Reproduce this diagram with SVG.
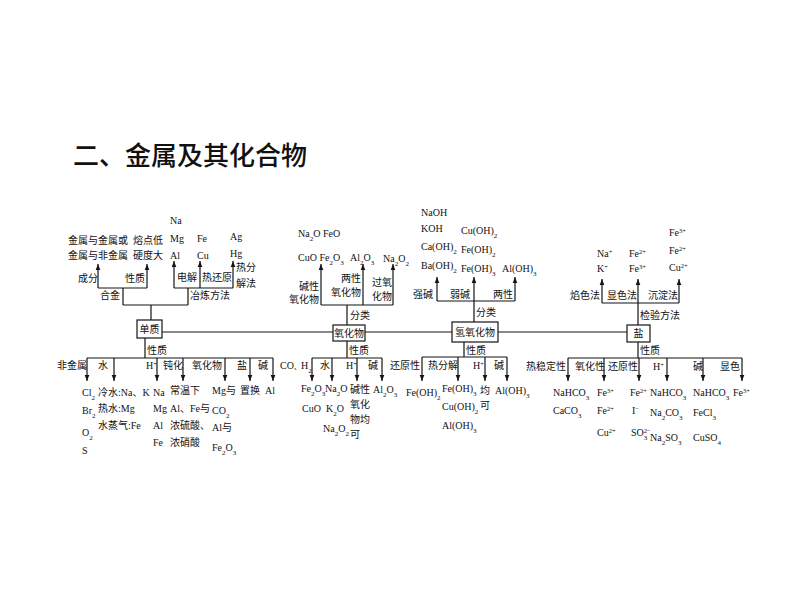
<svg xmlns="http://www.w3.org/2000/svg" width="794" height="596" viewBox="0 0 794 596">
<style>
text{font-family:"Liberation Serif","Noto Sans CJK SC",serif;font-size:10px;fill:#111}
.title{font-family:"Noto Sans CJK SC",sans-serif;font-size:26px;font-weight:500}
.b{font-size:7px;baseline-shift:sub}
.p{font-size:6.5px;baseline-shift:super}
.m{text-anchor:middle}
.e{text-anchor:end}
.ln{fill:none;stroke:#151515;stroke-width:1.2}
.ar{fill:none;stroke:#151515;stroke-width:1.2;marker-end:url(#ah)}
.box{fill:#fff;stroke:#151515;stroke-width:1.2}
</style>
<defs>
<marker id="ah" viewBox="0 0 6 6" refX="6" refY="3" markerWidth="6" markerHeight="6" markerUnits="userSpaceOnUse" orient="auto"><path d="M0,0.7 L6,3 L0,5.3 z" fill="#151515"/></marker>
</defs>
<rect width="794" height="596" fill="#fff"/>
<text class="title" x="73" y="165">二、金属及其化合物</text>

<g id="connectors">
<path class="ln" d="M162,332 H627"/>
<path class="ln" d="M98,288 H147 M174,288 H233 M123,288 V305 M188,288 V305 M123,305 H188 M151,305 V320"/>
<path class="ar" d="M98,288 V264"/><path class="ar" d="M147,288 V264"/>
<path class="ar" d="M174,288 V261"/><path class="ar" d="M200,288 V261"/><path class="ar" d="M233,288 V261"/>
<path class="ln" d="M145,338 V358 M87,358 H273"/>
<path class="ar" d="M87,358 V381"/><path class="ar" d="M114,358 V381"/><path class="ar" d="M157,358 V381"/><path class="ar" d="M183,358 V381"/><path class="ar" d="M225,358 V381"/><path class="ar" d="M250,358 V381"/><path class="ar" d="M273,358 V381"/>
<path class="ln" d="M321,305 H393 M347,305 V325"/>
<path class="ar" d="M321,305 V264"/><path class="ar" d="M363,305 V264"/><path class="ar" d="M393,305 V264"/>
<path class="ln" d="M347,341 V358 M312,358 H382"/>
<path class="ar" d="M312,358 V381"/><path class="ar" d="M332,358 V381"/><path class="ar" d="M357,358 V381"/><path class="ar" d="M382,358 V381"/>
<path class="ln" d="M437,301 H515 M474,301 V322"/>
<path class="ar" d="M437,301 V277"/><path class="ar" d="M474,301 V277"/><path class="ar" d="M515,301 V277"/>
<path class="ln" d="M464,342 V357 M422,357 H507"/>
<path class="ar" d="M422,357 V381"/><path class="ar" d="M458,357 V381"/><path class="ar" d="M485,357 V381"/><path class="ar" d="M507,357 V381"/>
<path class="ln" d="M602,303 H679 M638,303 V325"/>
<path class="ar" d="M602,303 V279"/><path class="ar" d="M638,303 V279"/><path class="ar" d="M679,303 V279"/>
<path class="ln" d="M638,342 V358 M568,358 H742"/>
<path class="ar" d="M568,358 V381"/><path class="ar" d="M604,358 V381"/><path class="ar" d="M639,358 V381"/><path class="ar" d="M667,358 V381"/><path class="ar" d="M703,358 V381"/><path class="ar" d="M742,358 V381"/>
</g>

<g id="n-danzhi">
<rect class="box" x="137" y="320" width="25" height="18"/>
<text class="m" x="149.5" y="333">单质</text>
</g>
<g id="n-hejin">
<text x="68" y="244">金属与金属或</text>
<text x="68" y="259">金属与非金属</text>
<text x="133" y="244">熔点低</text>
<text x="133" y="259">硬度大</text>
<text x="78" y="282">成分</text>
<text x="125" y="282">性质</text>
<text x="100" y="299">合金</text>
</g>
<g id="n-yelian">
<text x="170" y="224">Na</text>
<text x="170" y="242">Mg</text>
<text x="170" y="259">Al</text>
<text x="197" y="242">Fe</text>
<text x="197" y="259">Cu</text>
<text x="230" y="240">Ag</text>
<text x="230" y="257">Hg</text>
<text x="177" y="281">电解</text>
<text x="202" y="281">热还原</text>
<text x="236" y="271">热分</text>
<text x="236" y="287">解法</text>
<text x="190" y="299">冶炼方法</text>
</g>
<g id="n-danzhi-xingzhi">
<text x="147" y="354">性质</text>
<text x="57" y="369">非金属</text>
<text x="98" y="369">水</text>
<text x="146" y="369">H<tspan class="p">+</tspan></text>
<text x="163" y="369">钝化</text>
<text x="192" y="369">氧化物</text>
<text x="237" y="369">盐</text>
<text x="258" y="369">碱</text>
<text x="82" y="396">Cl<tspan class="b">2</tspan></text>
<text x="82" y="414">Br<tspan class="b">2</tspan></text>
<text x="82" y="436">O<tspan class="b">2</tspan></text>
<text x="82" y="454">S</text>
<text x="98" y="396">冷水:Na、K</text>
<text x="98" y="412">热水:Mg</text>
<text x="98" y="429">水蒸气:Fe</text>
<text x="153" y="396">Na</text>
<text x="153" y="412">Mg</text>
<text x="153" y="429">Al</text>
<text x="153" y="446">Fe</text>
<text x="170" y="394">常温下</text>
<text x="170" y="412">Al、Fe与</text>
<text x="170" y="429">浓硫酸、</text>
<text x="170" y="446">浓硝酸</text>
<text x="212" y="394">Mg与</text>
<text x="212" y="414">CO<tspan class="b">2</tspan></text>
<text x="212" y="431">Al与</text>
<text x="212" y="451">Fe<tspan class="b">2</tspan>O<tspan class="b">3</tspan></text>
<text x="240" y="394">置换</text>
<text x="265" y="394">Al</text>
</g>

<g id="n-yanghuawu">
<rect class="box" x="333" y="325" width="32" height="16"/>
<text class="m" x="349" y="337">氧化物</text>
</g>
<g id="n-yanghuawu-fenlei">
<text x="350" y="319">分类</text>
<text x="298" y="237">Na<tspan class="b">2</tspan>O FeO</text>
<text x="298" y="261">CuO Fe<tspan class="b">2</tspan>O<tspan class="b">3</tspan></text>
<text x="350" y="261">Al<tspan class="b">2</tspan>O<tspan class="b">3</tspan></text>
<text x="383" y="262">Na<tspan class="b">2</tspan>O<tspan class="b">2</tspan></text>
<text class="e" x="319" y="290">碱性</text>
<text class="e" x="319" y="303">氧化物</text>
<text class="e" x="361" y="282">两性</text>
<text class="e" x="361" y="296">氧化物</text>
<text class="e" x="392" y="286">过氧</text>
<text class="e" x="392" y="300">化物</text>
</g>
<g id="n-yanghuawu-xingzhi">
<text x="349" y="354">性质</text>
<text x="280" y="369">CO<tspan font-size="7">、</tspan>H<tspan class="b">2</tspan></text>
<text x="320" y="369">水</text>
<text x="346" y="369">H<tspan class="p">+</tspan></text>
<text x="368" y="369">碱</text>
<text x="301" y="392">Fe<tspan class="b">2</tspan>O<tspan class="b">3</tspan></text>
<text x="325" y="392">Na<tspan class="b">2</tspan>O</text>
<text x="302" y="412">CuO</text>
<text x="326" y="412">K<tspan class="b">2</tspan>O</text>
<text x="323" y="432">Na<tspan class="b">2</tspan>O<tspan class="b">2</tspan></text>
<text x="350" y="393">碱性</text>
<text x="350" y="408">氧化</text>
<text x="350" y="423">物均</text>
<text x="350" y="438">可</text>
<text x="373" y="393">Al<tspan class="b">2</tspan>O<tspan class="b">3</tspan></text>
</g>

<g id="n-qingyanghuawu">
<rect class="box" x="452" y="322" width="46" height="20"/>
<text class="m" x="475" y="336">氢氧化物</text>
</g>
<g id="n-qingyanghuawu-fenlei">
<text x="476" y="316">分类</text>
<text x="421" y="216">NaOH</text>
<text x="421" y="232">KOH</text>
<text x="421" y="250">Ca(OH)<tspan class="b">2</tspan></text>
<text x="421" y="269">Ba(OH)<tspan class="b">2</tspan></text>
<text x="461" y="234">Cu(OH)<tspan class="b">2</tspan></text>
<text x="461" y="253">Fe(OH)<tspan class="b">2</tspan></text>
<text x="461" y="272">Fe(OH)<tspan class="b">3</tspan></text>
<text x="502" y="272">Al(OH)<tspan class="b">3</tspan></text>
<text x="413" y="298">强碱</text>
<text x="450" y="298">弱碱</text>
<text x="493" y="298">两性</text>
</g>
<g id="n-qingyanghuawu-xingzhi">
<text x="466" y="354">性质</text>
<text class="e" x="420" y="369">还原性</text>
<text x="428" y="369">热分解</text>
<text x="473" y="369">H<tspan class="p">+</tspan></text>
<text x="494" y="369">碱</text>
<text x="406" y="396">Fe(OH)<tspan class="b">2</tspan></text>
<text x="442" y="392">Fe(OH)<tspan class="b">3</tspan></text>
<text x="442" y="410">Cu(OH)<tspan class="b">2</tspan></text>
<text x="442" y="429">Al(OH)<tspan class="b">3</tspan></text>
<text x="480" y="394">均</text>
<text x="480" y="409">可</text>
<text x="495" y="394">Al(OH)<tspan class="b">3</tspan></text>
</g>

<g id="n-yan">
<rect class="box" x="627" y="325" width="23" height="17"/>
<text class="m" x="638.5" y="337">盐</text>
</g>
<g id="n-yan-jianyan">
<text x="640" y="319">检验方法</text>
<text x="597" y="257">Na<tspan class="p">+</tspan></text>
<text x="597" y="272">K<tspan class="p">+</tspan></text>
<text x="629" y="257">Fe<tspan class="p">2+</tspan></text>
<text x="629" y="272">Fe<tspan class="p">3+</tspan></text>
<text x="669" y="236">Fe<tspan class="p">3+</tspan></text>
<text x="669" y="254">Fe<tspan class="p">2+</tspan></text>
<text x="669" y="271">Cu<tspan class="p">2+</tspan></text>
<text x="570" y="299">焰色法</text>
<text x="607" y="299">显色法</text>
<text x="648" y="299">沉淀法</text>
</g>
<g id="n-yan-xingzhi">
<text x="640" y="354">性质</text>
<text class="e" x="566" y="370">热稳定性</text>
<text x="575" y="370">氧化性</text>
<text x="608" y="370">还原性</text>
<text x="653" y="370">H<tspan class="p">+</tspan></text>
<text x="693" y="370">碱</text>
<text x="720" y="370">显色</text>
<text x="553" y="396">NaHCO<tspan class="b">3</tspan></text>
<text x="553" y="414">CaCO<tspan class="b">3</tspan></text>
<text x="597" y="396">Fe<tspan class="p">3+</tspan></text>
<text x="597" y="414">Fe<tspan class="p">2+</tspan></text>
<text x="597" y="436">Cu<tspan class="p">2+</tspan></text>
<text x="630" y="396">Fe<tspan class="p">2+</tspan></text>
<text x="632" y="414">I<tspan class="p">−</tspan></text>
<text x="631" y="436">SO<tspan class="b">3</tspan><tspan class="p" dx="-3.5">2−</tspan></text>
<text x="650" y="396">NaHCO<tspan class="b">3</tspan></text>
<text x="650" y="416">Na<tspan class="b">2</tspan>CO<tspan class="b">3</tspan></text>
<text x="650" y="441">Na<tspan class="b">2</tspan>SO<tspan class="b">3</tspan></text>
<text x="693" y="396">NaHCO<tspan class="b">3</tspan></text>
<text x="693" y="416">FeCl<tspan class="b">3</tspan></text>
<text x="693" y="441">CuSO<tspan class="b">4</tspan></text>
<text x="733" y="396">Fe<tspan class="p">3+</tspan></text>
</g>
</svg>
